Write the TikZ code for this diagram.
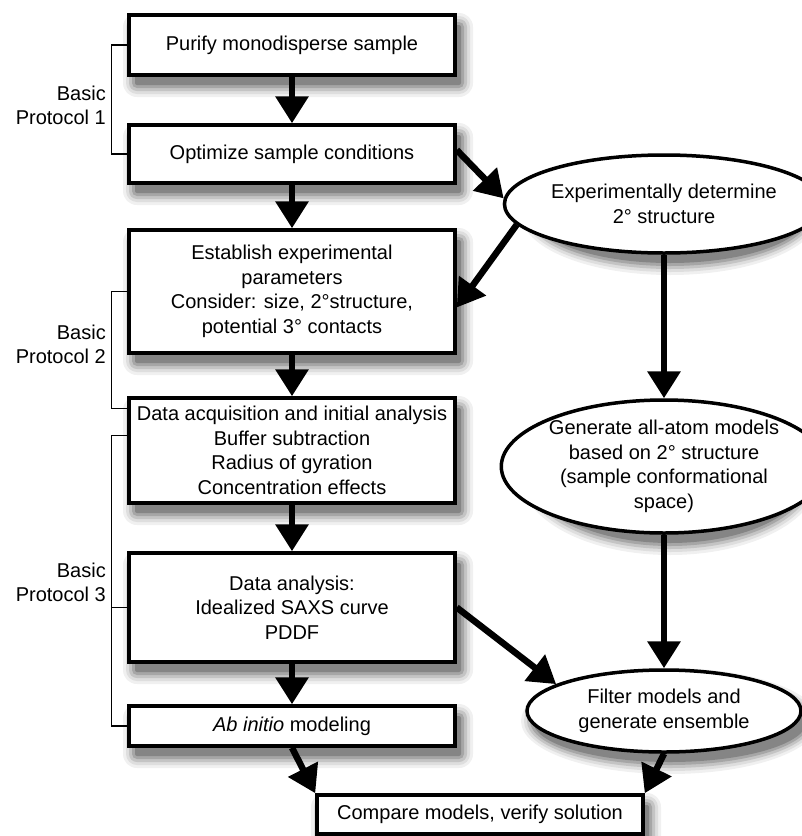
\documentclass[tikz,border=0pt]{standalone}
\usepackage{fontspec}
\setmainfont{Liberation Sans}
\usetikzlibrary{arrows.meta,shapes.geometric}

% soft drop shadow of a box: centre x, centre y, width, height
\newcommand\myshbox[4]{%
  \foreach \rr/\kk in {12/6,9/13,6/23,3/35,0/48}{%
    \fill[black!\kk, rounded corners={(\rr+2)*1pt}]
      ({#1-#3/2+6-\rr},{#2-#4/2+10-\rr}) rectangle ({#1+#3/2+6+\rr},{#2+#4/2+10+\rr});
  }}
% soft drop shadow of an ellipse: centre x, centre y, x radius, y radius
\newcommand\myshell[4]{%
  \foreach \rr/\kk in {12/6,9/13,6/23,3/35,0/48}{%
    \fill[black!\kk] ({#1+6},{#2+10}) ellipse [x radius={#3+\rr}, y radius={#4+\rr}];
  }}

\begin{document}
\begin{tikzpicture}[x=1pt,y=-1pt,
  box/.style={draw, line width=3.5pt, fill=white, minimum width=326pt, align=center, inner sep=0pt,
    font=\fontsize{20}{24.5}\selectfont},
  ell/.style={ellipse, draw, line width=3.5pt, fill=white, minimum width=274pt, align=center, inner sep=0pt,
    font=\fontsize{20}{24.5}\selectfont},
  lbl/.style={anchor=east, align=right, inner sep=0pt, font=\fontsize{20}{24}\selectfont},
  arr/.style={line width=6.5pt, -{Triangle[length=27pt,width=32pt]}},
  brk/.style={line width=1.4pt}
]
\useasboundingbox (0,0) rectangle (802,836);

% shadows
\myshbox{292}{45}{326}{60}
\myshbox{292}{154}{326}{58}
\myshbox{292}{291.5}{326}{123}
\myshbox{292}{450.5}{326}{105}
\myshbox{292}{607.5}{326}{109}
\myshbox{292}{726}{326}{40}
\myshbox{480}{814.5}{326}{39}
\myshell{664}{204}{137}{49}
\myshell{664}{466.5}{137}{66.5}
\myshell{664}{711}{137}{41}

% left column boxes
\node[box, minimum height=60pt]  (b1) at (292,45)    {Purify monodisperse sample};
\node[box, minimum height=58pt]  (b2) at (292,154)   {Optimize sample conditions};
\node[box, minimum height=123pt] (b3) at (292,291.5) {Establish experimental\\parameters\\Consider: size, 2°structure,\\potential 3° contacts};
\node[box, minimum height=105pt] (b4) at (292,450.5) {Data acquisition and initial analysis\\Buffer subtraction\\Radius of gyration\\Concentration effects};
\node[box, minimum height=109pt] (b5) at (292,607.5) {Data analysis:\\Idealized SAXS curve\\PDDF};
\node[box, minimum height=40pt]  (b6) at (292,726)   {\textit{Ab initio} modeling};
\node[box, minimum height=39pt]  (b7) at (480,814.5) {Compare models, verify solution};

% right column ellipses
\node[ell, minimum height=98pt]  (e1) at (664,204)   {Experimentally determine\\2° structure};
\node[ell, minimum height=133pt] (e2) at (664,466.5) {Generate all-atom models\\based on 2° structure\\(sample conformational\\space)};
\node[ell, minimum height=82pt]  (e3) at (664,711)   {Filter models and\\generate ensemble};

% protocol labels
\node[lbl] (p1) at (106,105) {Basic\\Protocol 1};
\node[lbl] (p2) at (106,344) {Basic\\Protocol 2};
\node[lbl] (p3) at (106,582) {Basic\\Protocol 3};

% brackets
\draw[brk] (b1.west) -- ++(-16,0) |- (b2.west);
\draw[brk] (b3.west) -- ++(-16,0) |- ([yshift=-12pt]b4.north west);
\draw[brk] ([yshift=-39pt]b4.north west) -- ++(-16,0) |- (b6.west);
\draw[brk] (b5.west) -- ++(-16,0);

% arrows
\draw[arr] (b1.south) -- (b2.north);
\draw[arr] (b2.south) -- (b3.north);
\draw[arr] (b3.south) -- (b4.north);
\draw[arr] (b4.south) -- (b5.north);
\draw[arr] (b5.south) -- (b6.north);
\draw[arr] (b6.south) -- (b7.north west);
\draw[arr] ([yshift=4pt]b2.east) -- (e1.178);
\draw[arr] (e1.188.5) -- ([yshift=-16pt]b3.east);
\draw[arr] (e1.south) -- (e2.north);
\draw[arr] (e2.south) -- (e3.north);
\draw[arr] (b5.east) -- (e3.166);
\draw[arr] (e3.south) -- (b7.north east);
\end{tikzpicture}
\end{document}
